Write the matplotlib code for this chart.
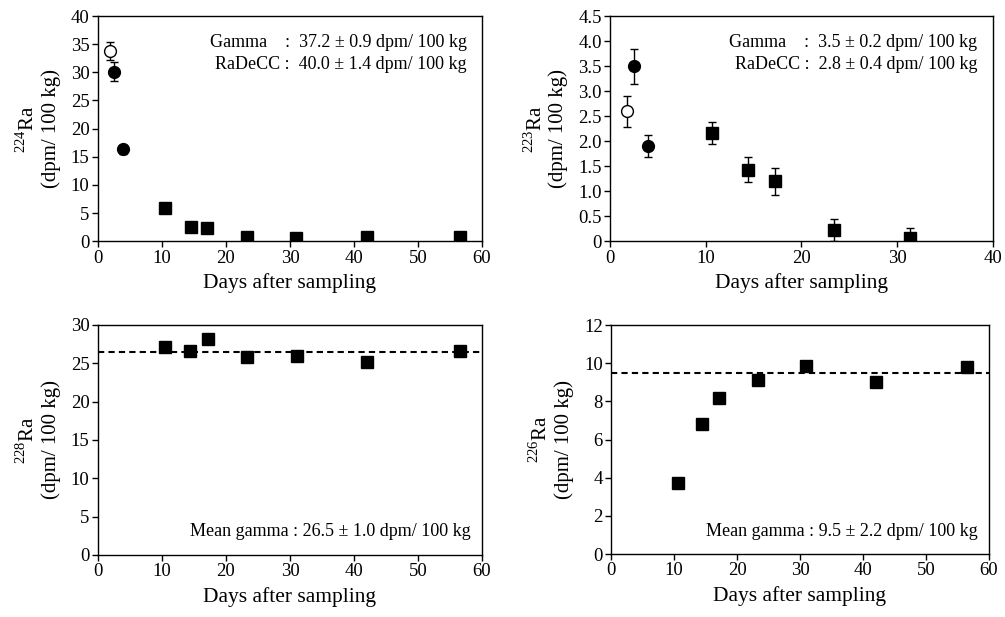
import matplotlib.pyplot as plt

plt.rcParams['font.family'] = 'Liberation Serif'
plt.rcParams['mathtext.fontset'] = 'custom'
plt.rcParams['mathtext.rm'] = 'Liberation Serif'

# 224Ra
ra224_open_x = [1.8]
ra224_open_y = [33.8]
ra224_open_e = [1.6]
ra224_circ_x = [2.5, 3.9]
ra224_circ_y = [30.1, 16.3]
ra224_circ_e = [1.7, 0.8]
ra224_sq_x = [10.5, 14.5, 17.0, 23.3, 31.0, 42.0, 56.5]
ra224_sq_y = [5.9, 2.6, 2.3, 0.8, 0.5, 0.7, 0.8]

# 223Ra
ra223_open_x = [1.8]
ra223_open_y = [2.6]
ra223_open_e = [0.31]
ra223_circ_x = [2.5, 4.0]
ra223_circ_y = [3.5, 1.9]
ra223_circ_e = [0.35, 0.22]
ra223_sq_x = [10.6, 14.4, 17.2, 23.4, 31.3]
ra223_sq_y = [2.17, 1.43, 1.2, 0.22, 0.07]
ra223_sq_e = [0.22, 0.25, 0.27, 0.22, 0.2]

# 228Ra
ra228_x = [10.5, 14.4, 17.2, 23.3, 31.1, 42.0, 56.5]
ra228_y = [27.1, 26.6, 28.2, 25.8, 25.9, 25.2, 26.6]
ra228_mean = 26.5

# 226Ra
ra226_x = [10.7, 14.4, 17.1, 23.3, 31.0, 42.0, 56.5]
ra226_y = [3.75, 6.8, 8.2, 9.15, 9.85, 9.0, 9.8]
ra226_mean = 9.5

fig = plt.figure(figsize=(10.05, 6.17), dpi=100)
ax1 = fig.add_axes([0.0975, 0.609, 0.382, 0.365])
ax2 = fig.add_axes([0.607, 0.609, 0.381, 0.365])
ax3 = fig.add_axes([0.0975, 0.1005, 0.382, 0.373])
ax4 = fig.add_axes([0.608, 0.102, 0.376, 0.371])

FS_TICK = 13.5
FS_LAB = 15.5
FS_YLAB = 15
FS_TXT = 13
ms_sq = 8.5
ms_c = 8.5


def style(ax):
    ax.tick_params(direction='out', length=4, width=1, labelsize=FS_TICK,
                   top=False, right=False, pad=2)
    for s in ax.spines.values():
        s.set_linewidth(1.0)
    ax.set_xlabel('Days after sampling', fontsize=FS_LAB, labelpad=5)


# panel 1
ax1.errorbar(ra224_open_x, ra224_open_y, yerr=ra224_open_e, fmt='o', mfc='white',
             mec='k', color='k', ms=ms_c, capsize=3, elinewidth=1)
ax1.errorbar(ra224_circ_x, ra224_circ_y, yerr=ra224_circ_e, fmt='o', color='k',
             ms=ms_c, capsize=3, elinewidth=1)
ax1.plot(ra224_sq_x, ra224_sq_y, 's', color='k', ms=ms_sq)
ax1.set_xlim(0, 60)
ax1.set_ylim(0, 40)
ax1.set_xticks(range(0, 61, 10))
ax1.set_yticks(range(0, 41, 5))
ax1.set_ylabel('$^{224}$Ra\n(dpm/ 100 kg)', fontsize=FS_YLAB, linespacing=1.15, labelpad=7)
ax1.text(0.96, 0.884, 'Gamma    :  37.2 ± 0.9 dpm/ 100 kg', transform=ax1.transAxes,
         ha='right', va='center', fontsize=FS_TXT)
ax1.text(0.96, 0.787, 'RaDeCC :  40.0 ± 1.4 dpm/ 100 kg', transform=ax1.transAxes,
         ha='right', va='center', fontsize=FS_TXT)
style(ax1)

# panel 2
ax2.errorbar(ra223_open_x, ra223_open_y, yerr=ra223_open_e, fmt='o', mfc='white',
             mec='k', color='k', ms=ms_c, capsize=3, elinewidth=1)
ax2.errorbar(ra223_circ_x, ra223_circ_y, yerr=ra223_circ_e, fmt='o', color='k',
             ms=ms_c, capsize=3, elinewidth=1)
ax2.errorbar(ra223_sq_x, ra223_sq_y, yerr=ra223_sq_e, fmt='s', color='k',
             ms=ms_sq, capsize=3, elinewidth=1)
ax2.set_xlim(0, 40)
ax2.set_ylim(0, 4.5)
ax2.set_xticks(range(0, 41, 10))
yt = [0, 0.5, 1.0, 1.5, 2.0, 2.5, 3.0, 3.5, 4.0, 4.5]
ax2.set_yticks(yt)
ax2.set_yticklabels(['0'] + ['%.1f' % v for v in yt[1:]])
ax2.set_ylabel('$^{223}$Ra\n(dpm/ 100 kg)', fontsize=FS_YLAB, linespacing=1.15, labelpad=7)
ax2.text(0.96, 0.884, 'Gamma    :  3.5 ± 0.2 dpm/ 100 kg', transform=ax2.transAxes,
         ha='right', va='center', fontsize=FS_TXT)
ax2.text(0.96, 0.787, 'RaDeCC :  2.8 ± 0.4 dpm/ 100 kg', transform=ax2.transAxes,
         ha='right', va='center', fontsize=FS_TXT)
style(ax2)

# panel 3
ax3.plot(ra228_x, ra228_y, 's', color='k', ms=ms_sq)
ax3.axhline(ra228_mean, color='k', ls=(0, (3, 2)), lw=1.5)
ax3.set_xlim(0, 60)
ax3.set_ylim(0, 30)
ax3.set_xticks(range(0, 61, 10))
ax3.set_yticks(range(0, 31, 5))
ax3.set_ylabel('$^{228}$Ra\n(dpm/ 100 kg)', fontsize=FS_YLAB, linespacing=1.15, labelpad=7)
ax3.text(0.97, 0.1, 'Mean gamma : 26.5 ± 1.0 dpm/ 100 kg', transform=ax3.transAxes,
         ha='right', va='center', fontsize=FS_TXT)
style(ax3)

# panel 4
ax4.plot(ra226_x, ra226_y, 's', color='k', ms=ms_sq)
ax4.axhline(ra226_mean, color='k', ls=(0, (3, 2)), lw=1.5)
ax4.set_xlim(0, 60)
ax4.set_ylim(0, 12)
ax4.set_xticks(range(0, 61, 10))
ax4.set_yticks(range(0, 13, 2))
ax4.set_ylabel('$^{226}$Ra\n(dpm/ 100 kg)', fontsize=FS_YLAB, linespacing=1.15, labelpad=7)
ax4.text(0.97, 0.1, 'Mean gamma : 9.5 ± 2.2 dpm/ 100 kg', transform=ax4.transAxes,
         ha='right', va='center', fontsize=FS_TXT)
style(ax4)

fig.savefig('out.png', dpi=100)
